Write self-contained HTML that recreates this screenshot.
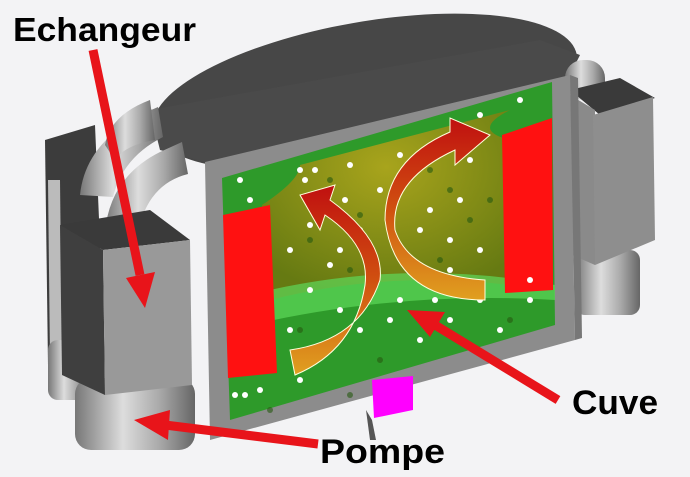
<!DOCTYPE html>
<html><head><meta charset="utf-8"><style>
html,body{margin:0;padding:0;background:#f3f3f5;}
svg{display:block}
text{font-family:"Liberation Sans",sans-serif;font-weight:bold;fill:#000}
</style></head><body>
<svg width="690" height="477" viewBox="0 0 690 477" xmlns="http://www.w3.org/2000/svg">
<defs>
<linearGradient id="cyl" x1="0" x2="1" y1="0" y2="0">
<stop offset="0" stop-color="#777"/><stop offset="0.4" stop-color="#ddd"/><stop offset="0.7" stop-color="#aaa"/><stop offset="1" stop-color="#666"/></linearGradient>
<radialGradient id="olive" cx="0.5" cy="0.3" r="0.7">
<stop offset="0" stop-color="#a8a41c"/><stop offset="1" stop-color="#667a12"/></radialGradient>
<linearGradient id="ar1" x1="0" y1="1" x2="0" y2="0">
<stop offset="0" stop-color="#e0a020"/><stop offset="0.5" stop-color="#d05010"/><stop offset="1" stop-color="#c01010"/></linearGradient>
</defs>
<!-- lid -->
<ellipse cx="365" cy="92" rx="215" ry="70" transform="rotate(-10 365 92)" fill="#474747"/>
<polygon points="150,110 160,150 205,162 570,75 580,55 540,40" fill="#4a4a4a"/>
<!-- right housing -->
<rect x="565" y="60" width="40" height="40" rx="18" fill="url(#cyl)"/>
<rect x="575" y="250" width="65" height="65" rx="10" fill="url(#cyl)"/>
<polygon points="570,90 620,78 655,98 600,115" fill="#3a3a3a"/>
<polygon points="570,95 595,110 595,265 572,255" fill="#8a8a8a"/>
<polygon points="593,115 653,97 655,240 595,265" fill="#8e8e8e"/>
<!-- left housing -->
<polygon points="45,140 95,125 105,360 48,365" fill="#3c3c3c"/>
<polygon points="48,180 60,180 62,360 50,360" fill="#bbb"/>
<rect x="48" y="340" width="40" height="60" rx="10" fill="url(#cyl)"/>
<rect x="75" y="378" width="120" height="72" rx="16" fill="url(#cyl)"/>
<path d="M80 195 q5 -50 60 -80 l18 -8 l5 30 q-40 20 -50 60z" fill="url(#cyl)"/>
<path d="M105 232 q5 -55 55 -80 l22 -10 l6 32 q-40 10 -50 58z" fill="url(#cyl)"/>
<path d="M105 145 q5 -30 45 -45 l5 40 q-30 5 -40 20z" fill="url(#cyl)"/>
<polygon points="60,225 150,210 190,240 103,250" fill="#3a3a3a"/>
<polygon points="60,225 103,250 105,395 62,375" fill="#3f3f3f"/>
<polygon points="103,250 190,240 192,385 105,395" fill="#999"/>
<!-- main box -->
<polygon points="205,162 570,75 575,340 210,440" fill="#8c8c8c"/>
<polygon points="570,75 578,78 582,338 575,340" fill="#777"/>
<polygon points="222,178 552,82 555,325 230,420" fill="#2e9a2a"/>
<path d="M262 205 Q300 180 300 165 L510 110 Q470 130 510 140 L510 285 Q390 270 270 300z" fill="url(#olive)"/>
<path d="M230 300 Q390 255 555 285 L555 300 Q390 290 230 330z" fill="#5ed85a" opacity="0.7"/>
<polygon points="223,215 270,205 277,373 228,378" fill="#f11"/>
<polygon points="502,135 552,118 553,290 505,293" fill="#f11"/>
<!-- dots -->
<g fill="#265a10" opacity="0.6">
<circle cx="330" cy="180" r="3"/><circle cx="360" cy="215" r="3"/><circle cx="430" cy="170" r="3"/><circle cx="470" cy="220" r="3"/>
<circle cx="310" cy="240" r="3"/><circle cx="400" cy="250" r="3"/><circle cx="440" cy="260" r="3"/><circle cx="350" cy="270" r="3"/>
<circle cx="300" cy="330" r="3"/><circle cx="380" cy="360" r="3"/><circle cx="460" cy="340" r="3"/><circle cx="510" cy="320" r="3"/>
<circle cx="270" cy="410" r="3"/><circle cx="350" cy="395" r="3"/><circle cx="490" cy="200" r="3"/><circle cx="450" cy="190" r="3"/>
</g>
<g fill="#fff">
<circle cx="300" cy="170" r="3"/><circle cx="350" cy="165" r="3"/><circle cx="380" cy="190" r="3"/><circle cx="400" cy="155" r="3"/>
<circle cx="440" cy="140" r="3"/><circle cx="470" cy="135" r="3"/><circle cx="320" cy="200" r="3"/><circle cx="360" cy="230" r="3"/>
<circle cx="290" cy="250" r="3"/><circle cx="330" cy="265" r="3"/><circle cx="420" cy="230" r="3"/><circle cx="460" cy="200" r="3"/>
<circle cx="480" cy="250" r="3"/><circle cx="450" cy="270" r="3"/><circle cx="310" cy="290" r="3"/><circle cx="400" cy="300" r="3"/>
<circle cx="450" cy="320" r="3"/><circle cx="500" cy="330" r="3"/><circle cx="260" cy="390" r="3"/><circle cx="245" cy="395" r="3"/>
<circle cx="330" cy="350" r="3"/><circle cx="360" cy="330" r="3"/><circle cx="420" cy="340" r="3"/><circle cx="530" cy="300" r="3"/>
<circle cx="250" cy="200" r="3"/><circle cx="240" cy="180" r="3"/><circle cx="520" cy="100" r="3"/><circle cx="480" cy="300" r="3"/>
<circle cx="315" cy="170" r="3"/><circle cx="305" cy="180" r="3"/><circle cx="345" cy="200" r="3"/><circle cx="340" cy="250" r="3"/>
<circle cx="310" cy="225" r="3"/><circle cx="430" cy="210" r="3"/><circle cx="450" cy="240" r="3"/><circle cx="470" cy="160" r="3"/>
<circle cx="290" cy="330" r="3"/><circle cx="300" cy="380" r="3"/><circle cx="340" cy="310" r="3"/><circle cx="390" cy="320" r="3"/>
<circle cx="435" cy="300" r="3"/><circle cx="480" cy="115" r="3"/><circle cx="530" cy="280" r="3"/><circle cx="235" cy="395" r="3"/>
</g>
<!-- flow arrows -->
<path d="M295 375 L290 350 Q360 340 380 280 Q385 240 330 200 L335 185 L300 195 L320 230 L325 215 Q370 245 365 285 Q355 350 295 375z" fill="url(#ar1)" stroke="#ffd" stroke-width="1"/>
<path d="M485 300 L485 280 Q410 275 395 230 Q390 180 455 150 L455 165 L490 135 L450 118 L450 132 Q385 160 385 220 Q395 300 485 300z" fill="url(#ar1)" stroke="#ffd" stroke-width="1"/>
<!-- magenta -->
<polygon points="366,410 372,420 376,440 370,440" fill="#555"/>
<polygon points="372,380 413,376 413,410 374,418" fill="#f0f"/>
<!-- red pointer arrows -->
<g fill="#e8141a" stroke="#e8141a">
<line x1="93" y1="50" x2="140" y2="275" stroke-width="9"/>
<polygon points="126,278 155,272 145,308" stroke="none"/>
<line x1="318" y1="444" x2="165" y2="425" stroke-width="9"/>
<polygon points="170,410 168,440 134,420" stroke="none"/>
<line x1="558" y1="400" x2="435" y2="325" stroke-width="9"/>
<polygon points="445,312 430,337 407,310" stroke="none"/>
</g>
<text x="13" y="41" font-size="33" textLength="183" lengthAdjust="spacingAndGlyphs">Echangeur</text>
<text x="572" y="414" font-size="34" textLength="86" lengthAdjust="spacingAndGlyphs">Cuve</text>
<text x="320" y="463" font-size="34" textLength="125" lengthAdjust="spacingAndGlyphs">Pompe</text>
</svg>
</body></html>
